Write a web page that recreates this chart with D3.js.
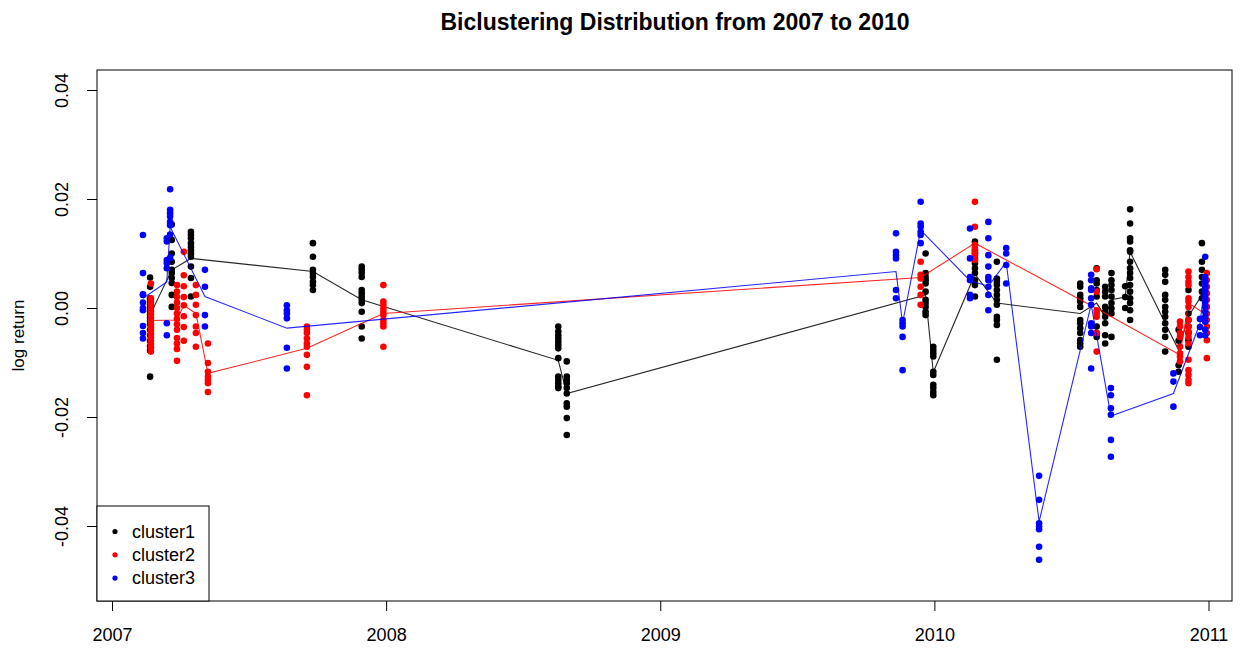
<!DOCTYPE html>
<html>
<head>
<meta charset="utf-8">
<script src="https://cdn.jsdelivr.net/npm/d3@7"></script>
<style>
  body { margin: 0; background: #fff; }
  svg { display: block; font-family: "Liberation Sans", Arial, Helvetica, sans-serif; }
</style>
</head>
<body>
<div id="chart"></div>
<script>
// cluster1 (black): group dates, line vertex (mean) and member values
var c1Dates = [2007.139, 2007.218, 2007.288, 2007.733, 2007.911, 2008.628, 2008.659,
  2009.968, 2009.996, 2010.148, 2010.228, 2010.532, 2010.592, 2010.623, 2010.646,
  2010.696, 2010.714, 2010.842, 2010.891, 2010.927, 2010.976];
var c1Means = [-0.0013, 0.0070, 0.0091, 0.0067, 0.0015, -0.0096, -0.0157,
  0.0024, -0.0118, 0.0062, 0.0009, -0.0010, 0.0009, -0.0015, 0.0015,
  0.0020, 0.0103, -0.0028, -0.0077, -0.0015, 0.0024];
var c1Values = [
  [0.0056, 0.0039, 0.0018, 0.0012, 0.0006, 0.0000, -0.0006, -0.0012, -0.0018, -0.0024, -0.0030, -0.0040, -0.0050, -0.0060, -0.0070, -0.0078, -0.0126],
  [0.0153, 0.0125, 0.0100, 0.0085, 0.0070, 0.0064, 0.0055, 0.0046, 0.0024, 0.0002],
  [0.0140, 0.0134, 0.0128, 0.0119, 0.0112, 0.0106, 0.0100, 0.0094, 0.0076, 0.0055, 0.0021],
  [0.0119, 0.0094, 0.0070, 0.0064, 0.0057, 0.0048, 0.0042, 0.0033],
  [0.0076, 0.0070, 0.0064, 0.0057, 0.0033, 0.0027, 0.0021, 0.0015, 0.0009, -0.0007, -0.0034, -0.0056],
  [-0.0034, -0.0043, -0.0050, -0.0056, -0.0062, -0.0068, -0.0074, -0.0092, -0.0126, -0.0132, -0.0138, -0.0144, -0.0147],
  [-0.0098, -0.0126, -0.0132, -0.0138, -0.0147, -0.0157, -0.0175, -0.0181, -0.0202, -0.0233],
  [0.0100, 0.0064, 0.0057, 0.0051, 0.0045, 0.0030, 0.0015, 0.0009, 0.0002, -0.0007, -0.0013],
  [-0.0071, -0.0077, -0.0083, -0.0089, -0.0117, -0.0123, -0.0141, -0.0147, -0.0154, -0.0160],
  [0.0122, 0.0116, 0.0106, 0.0100, 0.0091, 0.0082, 0.0073, 0.0064, 0.0051, 0.0042, 0.0021],
  [0.0085, 0.0054, 0.0048, 0.0042, 0.0033, 0.0024, 0.0015, 0.0006, -0.0016, -0.0022, -0.0031, -0.0095],
  [0.0045, 0.0039, 0.0024, 0.0018, 0.0012, 0.0002, -0.0022, -0.0028, -0.0037, -0.0046, -0.0059, -0.0065, -0.0071],
  [0.0073, 0.0051, 0.0045, 0.0033, 0.0021, -0.0034, -0.0046, -0.0053],
  [0.0039, 0.0030, 0.0021, 0.0002, -0.0007, -0.0016, -0.0028, -0.0050, -0.0065],
  [0.0064, 0.0051, 0.0042, 0.0033, 0.0021, 0.0009, -0.0001, -0.0010, -0.0053],
  [0.0040, 0.0020, 0.0000],
  [0.0181, 0.0155, 0.0128, 0.0122, 0.0106, 0.0103, 0.0085, 0.0073, 0.0064, 0.0055, 0.0042, 0.0030, 0.0018, 0.0009, -0.0004, -0.0022],
  [0.0070, 0.0061, 0.0048, 0.0024, 0.0015, 0.0002, -0.0007, -0.0016, -0.0028, -0.0040, -0.0053, -0.0080],
  [-0.0040, -0.0060, -0.0105, -0.0117],
  [0.0033, -0.0010, -0.0022, -0.0034, -0.0046, -0.0059, -0.0071],
  [0.0119, 0.0085, 0.0070, 0.0057, 0.0045, 0.0030, 0.0018]
];

// cluster2 (red)
var c2Dates = [2007.142, 2007.237, 2007.262, 2007.306, 2007.350, 2007.711, 2007.990,
  2009.950, 2010.148, 2010.592, 2010.896, 2010.927, 2010.994];
var c2Means = [-0.0023, -0.0022, 0.0005, -0.0010, -0.0120, -0.0074, -0.0010,
  0.0056, 0.0119, -0.0001, -0.0086, 0.0009, -0.0013];
var c2Values = [
  [0.0045, 0.0018, 0.0012, 0.0006, 0.0000, -0.0006, -0.0012, -0.0018, -0.0024, -0.0030, -0.0036, -0.0042, -0.0048, -0.0054, -0.0060, -0.0066, -0.0072, -0.0080],
  [0.0042, 0.0030, 0.0020, 0.0010, 0.0000, -0.0010, -0.0020, -0.0030, -0.0040, -0.0055, -0.0065, -0.0075, -0.0097],
  [0.0103, 0.0060, 0.0040, 0.0020, 0.0005, -0.0015, -0.0035, -0.0060],
  [0.0042, 0.0024, 0.0006, -0.0013, -0.0034, -0.0046, -0.0071],
  [-0.0065, -0.0101, -0.0117, -0.0126, -0.0132, -0.0138, -0.0154],
  [-0.0034, -0.0040, -0.0046, -0.0056, -0.0065, -0.0071, -0.0086, -0.0108, -0.0160],
  [0.0042, 0.0012, 0.0006, -0.0001, -0.0007, -0.0013, -0.0022, -0.0028, -0.0034, -0.0071],
  [0.0085, 0.0061, 0.0054, 0.0039, 0.0024, 0.0006],
  [0.0195, 0.0149, 0.0116, 0.0110, 0.0103, 0.0097, 0.0088],
  [0.0071, 0.0030, -0.0004, -0.0010, -0.0016, -0.0046, -0.0080],
  [-0.0025, -0.0034, -0.0046, -0.0053, -0.0071, -0.0083, -0.0089, -0.0098],
  [0.0067, 0.0057, 0.0048, 0.0042, 0.0018, 0.0012, 0.0002, -0.0022, -0.0034, -0.0043, -0.0053, -0.0065, -0.0095, -0.0114, -0.0123, -0.0132, -0.0138],
  [0.0064, 0.0051, 0.0039, 0.0027, 0.0015, 0.0002, -0.0010, -0.0022, -0.0034, -0.0046, -0.0059, -0.0092]
];

// cluster3 (blue)
var c3Dates = [2007.113, 2007.200, 2007.212, 2007.339, 2007.638, 2009.860, 2009.884,
  2009.950, 2010.130, 2010.197, 2010.262, 2010.382, 2010.572, 2010.644, 2010.872,
  2010.969, 2010.988];
var c3Means = [0.0018, 0.0048, 0.0149, 0.0021, -0.0037, 0.0067, -0.0028,
  0.0143, 0.0050, 0.0040, 0.0084, -0.0392, 0.0006, -0.0198, -0.0157,
  -0.0028, 0.0050];
var c3Values = [
  [0.0134, 0.0064, 0.0025, 0.0024, 0.0010, 0.0000, -0.0004, -0.0033, -0.0046, -0.0056],
  [0.0128, 0.0122, 0.0088, 0.0082, 0.0073, -0.0028, -0.0050],
  [0.0218, 0.0180, 0.0174, 0.0168, 0.0158, 0.0152, 0.0135, 0.0092],
  [0.0070, 0.0039, -0.0013, -0.0034],
  [0.0005, -0.0004, -0.0010, -0.0019, -0.0073, -0.0111],
  [0.0137, 0.0103, 0.0097, 0.0091, 0.0033, 0.0018],
  [-0.0022, -0.0028, -0.0034, -0.0053, -0.0114],
  [0.0195, 0.0155, 0.0149, 0.0140, 0.0134, 0.0119],
  [0.0146, 0.0091, 0.0057, 0.0051, 0.0024, 0.0018],
  [0.0158, 0.0128, 0.0097, 0.0076, 0.0057, 0.0051, 0.0039, 0.0024, -0.0004],
  [0.0110, 0.0100, 0.0079, 0.0045],
  [-0.0308, -0.0352, -0.0395, -0.0401, -0.0406, -0.0438, -0.0462],
  [0.0061, 0.0051, 0.0036, 0.0033, 0.0018, 0.0006, -0.0028, -0.0034, -0.0046, -0.0111],
  [-0.0147, -0.0160, -0.0184, -0.0196, -0.0242, -0.0273],
  [-0.0120, -0.0135, -0.0181],
  [-0.0020, -0.0035, -0.0050],
  [0.0094, 0.0057, 0.0050, 0.0045, 0.0040, 0.0035, 0.0030, 0.0022, 0.0015, 0.0010, 0.0002, -0.0007, -0.0016, -0.0025, -0.0040, -0.0050]
];

var xTicks = [2007, 2008, 2009, 2010, 2011];
var yTicks = [-0.04, -0.02, 0.00, 0.02, 0.04];
var legendLabels = ['cluster1', 'cluster2', 'cluster3'];
var colors = ['#000000', '#ff0000', '#0000ff'];

var W = 1252, H = 652;
var box = { left: 97, right: 1232, top: 70, bottom: 601 };

var svg = d3.select('#chart')
  .append('svg')
  .attr('width', W)
  .attr('height', H);

var x = d3.scaleLinear().domain([2007, 2011]).range([112, 1208.5]);
var y = d3.scaleLinear().domain([-0.04, 0.04]).range([526, 90]);

// title
svg.append('text')
  .attr('x', 675)
  .attr('y', 30)
  .attr('text-anchor', 'middle')
  .style('font-size', '23px')
  .style('font-weight', 'bold')
  .text('Biclustering Distribution from 2007 to 2010');

// y label
svg.append('text')
  .attr('transform', 'translate(24,' + ((box.top + box.bottom) / 2) + ') rotate(-90)')
  .attr('text-anchor', 'middle')
  .style('font-size', '17px')
  .text('log return');

// axes
var xAxis = svg.append('g')
  .attr('transform', 'translate(0,' + box.bottom + ')')
  .call(d3.axisBottom(x).tickValues(xTicks).tickSize(10).tickPadding(17).tickFormat(d3.format('d')));
xAxis.select('.domain').remove();
xAxis.selectAll('text').style('font-size', '18px').style('font-family', null).attr('fill', '#000');

var yAxis = svg.append('g')
  .attr('transform', 'translate(' + box.left + ',0)')
  .call(d3.axisLeft(y).tickValues(yTicks).tickSize(10).tickFormat(function(d) { return d.toFixed(2); }));
yAxis.select('.domain').remove();
yAxis.selectAll('text')
  .style('font-size', '18px')
  .style('font-family', null)
  .attr('fill', '#000')
  .attr('x', null)
  .attr('text-anchor', 'middle')
  .attr('transform', 'translate(-35,0) rotate(-90)')
  .attr('dy', '0.36em');
svg.selectAll('.tick line').attr('stroke', '#000').attr('stroke-width', 1);

// plot box
svg.append('rect')
  .attr('x', box.left).attr('y', box.top)
  .attr('width', box.right - box.left).attr('height', box.bottom - box.top)
  .attr('fill', 'none').attr('stroke', '#000').attr('stroke-width', 1);

var clusters = [
  { dates: c1Dates, means: c1Means, values: c1Values },
  { dates: c2Dates, means: c2Means, values: c2Values },
  { dates: c3Dates, means: c3Means, values: c3Values }
];

var line = d3.line()
  .x(function(d) { return x(d[0]); })
  .y(function(d) { return y(d[1]); });

clusters.forEach(function(c, i) {
  var pts = [];
  c.dates.forEach(function(dt, j) {
    c.values[j].forEach(function(v) { pts.push([dt, v]); });
  });
  svg.append('g').selectAll('circle')
    .data(pts)
    .enter().append('circle')
    .attr('cx', function(d) { return x(d[0]); })
    .attr('cy', function(d) { return y(d[1]); })
    .attr('r', 3.3)
    .attr('fill', colors[i]);

  svg.append('path')
    .datum(d3.zip(c.dates, c.means))
    .attr('d', line)
    .attr('fill', 'none')
    .attr('stroke', colors[i])
    .attr('stroke-width', 1.1)
    .attr('stroke-opacity', 0.85);
});

// legend
var lg = svg.append('g');
lg.append('rect')
  .attr('x', box.left).attr('y', 506)
  .attr('width', 112).attr('height', box.bottom - 506)
  .attr('fill', '#fff').attr('stroke', '#000').attr('stroke-width', 1);
legendLabels.forEach(function(lab, i) {
  var ly = 531.5 + i * 23.3;
  lg.append('circle').attr('cx', 115).attr('cy', ly).attr('r', 2.6).attr('fill', colors[i]);
  lg.append('text').attr('x', 132).attr('y', ly).attr('dy', '0.35em')
    .style('font-size', '18px').text(lab);
});
</script>
</body>
</html>
